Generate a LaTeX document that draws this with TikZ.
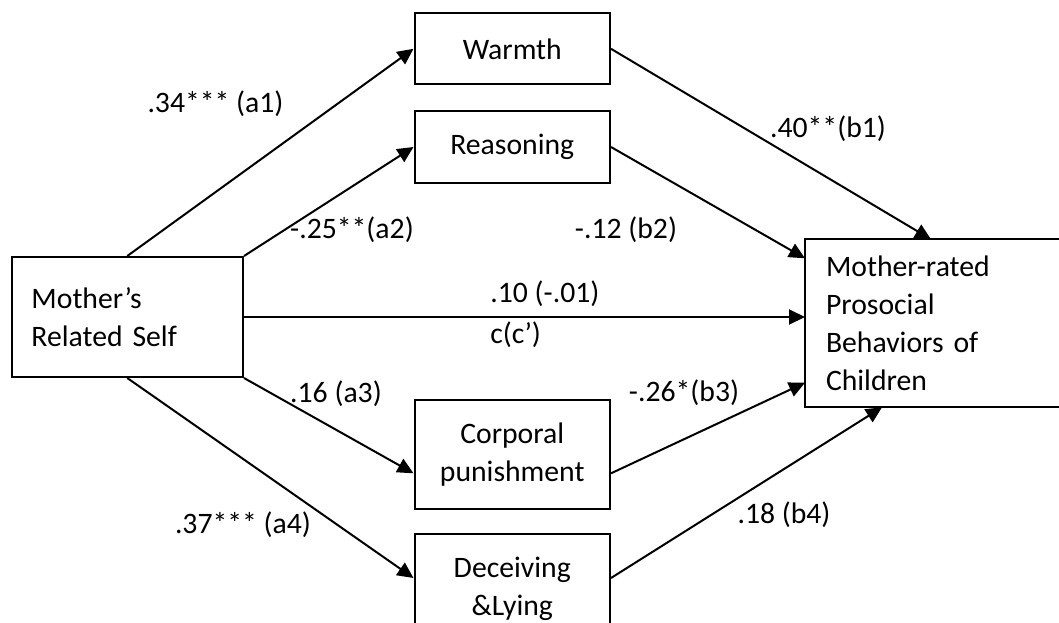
\documentclass[tikz,border=0pt]{standalone}
\usepackage{fontspec}
\setmainfont{Carlito}
\usetikzlibrary{arrows.meta}

\begin{document}
\begin{tikzpicture}[
  x=0.5pt,
  y=-0.5pt,
  every node/.style={font=\fontsize{14.85}{19.15}\selectfont},
  mediator/.style={draw,line width=1pt,minimum width=97.75pt,align=center,inner sep=0pt},
  sidebox/.style={draw,line width=1pt,align=left,inner xsep=10pt,inner ysep=0pt},
  effect/.style={draw,line width=1pt,-{Triangle[length=8pt,width=7.5pt]}},
  coef/.style={inner sep=0pt}
]
\useasboundingbox (0,0) rectangle (1059,622);

\node[sidebox,text width=95.75pt,minimum height=60pt] (mother) at (127.25,317) {Mother’s\\Related Self};
\node[mediator,minimum height=35.5pt] (warmth) at (512.25,48.8) {Warmth};
\node[mediator,minimum height=35.85pt] (reasoning) at (512.25,147) {Reasoning};
\node[mediator,minimum height=54.65pt] (corporal) at (512.25,454.3) {Corporal\\punishment};
\node[mediator,minimum height=54.5pt] (deceiving) at (512.25,588.5) {Deceiving\\\&Lying};
\node[sidebox,draw=none,text width=140pt,minimum height=83pt] (prosocial) at (966,323.3) {Mother-rated\\Prosocial\\Behaviors of\\Children};
\draw[line width=1pt] (prosocial.north east) -- (prosocial.north west) -- (prosocial.south west) -- (prosocial.south east);

\draw[effect] (mother.north) -- (warmth.west);
\draw[effect] (mother.north east) -- (reasoning.west);
\draw[effect] (mother.east) -- (prosocial.west |- mother.east);
\draw[effect] (mother.south east) -- ([yshift=-9.5pt]corporal.west);
\draw[effect] (mother.south) -- ([yshift=5.25pt]deceiving.west);
\draw[effect] (warmth.east) -- ([xshift=63pt]prosocial.north west);
\draw[effect] (reasoning.east) -- ([yshift=-9.5pt]prosocial.north west);
\draw[effect] ([yshift=-9.5pt]corporal.east) -- ([yshift=12.3pt]prosocial.south west);
\draw[effect] ([yshift=5.25pt]deceiving.east) -- ([xshift=38.5pt]prosocial.south west);

\node[coef] (a1) at (215.5,103.3) {.34*** (a1)};
\node[coef] (a2) at (352,230) {-.25**(a2)};
\node[coef,anchor=west] (c) at (490,294) {.10 (-.01)};
\node[coef,anchor=west] (cprime) at (490,335) {c(c’)};
\node[coef] (b1) at (828,129) {.40**(b1)};
\node[coef] (b2) at (626,230) {-.12 (b2)};
\node[coef] (a3) at (336,394) {.16 (a3)};
\node[coef] (a4) at (243,525) {.37*** (a4)};
\node[coef] (b3) at (684,393) {-.26*(b3)};
\node[coef] (b4) at (784,515) {.18 (b4)};
\end{tikzpicture}
\end{document}
